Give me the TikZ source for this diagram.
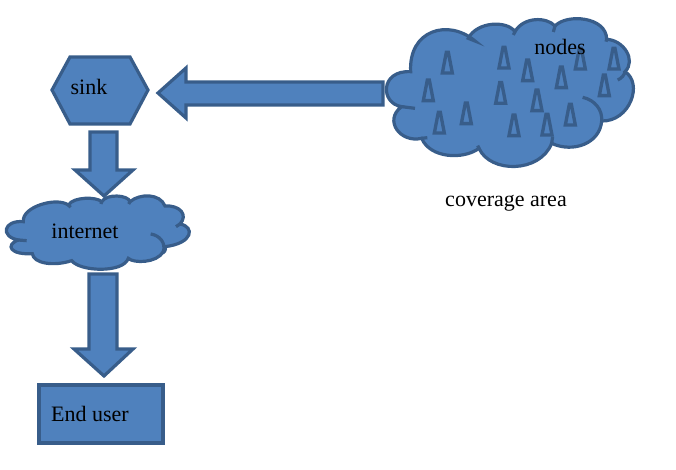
\documentclass[tikz,border=0pt]{standalone}
\usepackage{fontspec}
\setmainfont{Liberation Serif}
\usetikzlibrary{calc}
\definecolor{wsnfill}{RGB}{79, 129, 189}
\definecolor{wsnline}{RGB}{56, 93, 138}
\tikzset{
    shapeblue/.style={fill=wsnfill, draw=wsnline, line width=2.4pt, line join=miter},
    stubline/.style={draw=wsnline, line width=2.4pt},
    towerline/.style={draw=wsnline, line width=2.5pt, line join=miter},
    lbl/.style={font=\fontsize{16.5}{19}\selectfont, text=black, inner sep=0pt}
}

\begin{document}
\begin{tikzpicture}[x=0.75pt, y=-0.75pt]
\useasboundingbox (0,0) rectangle (676,470);

% === Sink ===
\draw[shapeblue] (70,57) -- (130,57) -- (148,90) -- (130,124) -- (70,124) -- (52,90) -- cycle;
\node[lbl] (sink) at (89,87) {sink};

% === Flechas ===
\draw[shapeblue] (383,82) -- (186,82) -- (186,68) -- (158,93) -- (186,118) -- (186,105) -- (383,105) -- cycle;
\draw[shapeblue] (90,132) -- (117,132) -- (117,170) -- (133,170) -- (104,196) -- (75,170) -- (90,170) -- cycle;
\draw[shapeblue] (89,274) -- (117,274) -- (117,349) -- (133,349) -- (104,376) -- (74,349) -- (89,349) -- cycle;

% === Nube de nodos ===
\begin{scope}[shift={(380,10)}, x=0.25pt, y=-0.25pt]
    \draw[shapeblue] (92,185) .. controls (85,60) and (205,25) .. (285,93) -- (265,85)
        .. controls (290,35) and (380,30) .. (405,65)
        .. controls (430,20) and (500,20) .. (525,48)
        .. controls (560,10) and (680,20) .. (680,88)
        .. controls (730,90) and (770,150) .. (735,185)
        .. controls (790,220) and (750,335) .. (665,333)
        .. controls (660,400) and (580,430) .. (515,400)
        .. controls (480,490) and (330,490) .. (297,415)
        .. controls (250,450) and (150,445) .. (125,385)
        .. controls (60,400) and (10,330) .. (65,290)
        .. controls (0,280) and (0,180) .. cycle;
    % trazos interiores
    \draw[stubline] (405,65) -- (400,75);
    \draw[stubline] (525,48) -- (520,66);
    \draw[stubline] (680,88) -- (678,95);
    \draw[stubline] (735,185) .. controls (733,195) and (725,205) .. (713,210);
    \draw[stubline] (608,262) .. controls (645,270) and (668,300) .. (665,333);
    \draw[stubline] (515,400) -- (518,380);
    \draw[stubline] (297,415) -- (293,407);
    \draw[stubline] (125,385) -- (142,383);
    \draw[stubline] (65,290) -- (105,295);
    % torres
    \foreach \tx/\ty in {202/192, 145/275, 178/372, 259/344, 372/177, 362/283, 402/380, 443/215, 471/305, 501/378, 544/236, 571/348, 601/180, 702/180, 673/260} {
        \draw[towerline] (\tx-15,\ty-3) -- (\tx-3,\ty-65) -- (\tx+3,\ty-65) -- (\tx+15,\ty-3) -- cycle;
    }
\end{scope}
\node[lbl] (nodes) at (560,47) {nodes};
\node[lbl] (coverage) at (506,203) {coverage area};

% === Nube de internet ===
\begin{scope}[shift={(0,50)}, x=0.25pt, y=-0.25pt]
    \draw[shapeblue] (70,515) .. controls (65,470) and (170,440) .. (205,465)
        .. controls (220,440) and (290,440) .. (305,455)
        .. controls (320,430) and (385,435) .. (390,455)
        .. controls (420,430) and (480,430) .. (495,468)
        .. controls (540,465) and (565,495) .. (540,522)
        .. controls (585,530) and (580,580) .. (495,590)
        .. controls (500,600) and (490,610) .. (490,605)
        .. controls (470,640) and (400,640) .. (385,625)
        .. controls (370,670) and (240,665) .. (215,632)
        .. controls (160,650) and (100,640) .. (97,611)
        .. controls (30,615) and (15,585) .. (55,570)
        .. controls (0,560) and (10,510) .. cycle;
    % trazos interiores
    \draw[stubline] (55,570) -- (80,572);
    \draw[stubline] (452,552) .. controls (480,556) and (498,580) .. (490,605);
    \draw[stubline] (540,522) -- (528,530);
    \draw[stubline] (205,465) -- (212,472);
    \draw[stubline] (305,455) -- (303,462);
    \draw[stubline] (390,455) -- (386,462);
\end{scope}
\node[lbl] (internet) at (85,231) {internet};

% === Usuario final ===
\draw[shapeblue] (39,385) rectangle (163,443);
\node[lbl] (enduser) at (90,414) {End user};

\end{tikzpicture}
\end{document}
